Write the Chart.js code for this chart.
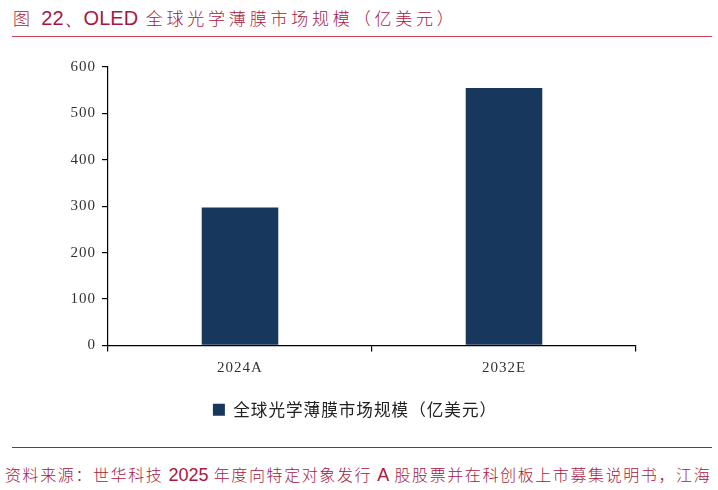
<!DOCTYPE html>
<html><head><meta charset="utf-8">
<script src="https://cdn.jsdelivr.net/npm/chart.js@4"></script>
<style>
html,body{margin:0;padding:0;background:#fff;width:718px;height:490px;overflow:hidden;position:relative;}
#title{position:absolute;left:13px;top:5px;font-family:"Noto Sans CJK SC","Liberation Sans",sans-serif;font-size:17px;letter-spacing:3.8px;color:#a8173f;white-space:nowrap;font-weight:300;}
#title .n{font-family:"Liberation Sans",Arial,sans-serif;font-size:20px;letter-spacing:0;font-weight:400;}
#l1{position:absolute;left:12px;top:36px;width:700px;height:1px;background:#d2435a;}
#l2{position:absolute;left:12px;top:447px;width:700px;height:1px;background:#c8102e;}
#src{position:absolute;left:5px;top:462px;font-family:"Noto Sans CJK SC",sans-serif;font-size:16px;letter-spacing:1.6px;color:#a8173f;white-space:nowrap;font-weight:300;}
#src .n{font-family:"Liberation Sans",Arial,sans-serif;font-size:18px;letter-spacing:0;font-weight:400;}
#wrap{position:absolute;left:0;top:40px;width:718px;height:400px;}
</style></head><body>
<div id="title">图 <span class="n">22、OLED</span> 全球光学薄膜市场规模（亿美元）</div>
<div id="l1"></div>
<div id="wrap"><canvas id="c" width="718" height="400"></canvas></div>
<div id="l2"></div>
<div id="src">资料来源：世华科技 <span class="n">2025</span> 年度向特定对象发行 <span class="n">A</span> 股股票并在科创板上市募集说明书，江海</div>
<script>
const categories = ["2024A", "2032E"];
const seriesName = "全球光学薄膜市场规模（亿美元）";
const values = [297, 555];
const yTicks = [0, 100, 200, 300, 400, 500, 600];

const spacingPlugin = {
  id: 'spacing',
  beforeUpdate(chart) { chart.ctx.letterSpacing = '1px'; },
  beforeLayout(chart) { chart.ctx.letterSpacing = '1px'; },
  afterLayout(chart) { if (chart.legend) { chart.legend.left += 6; chart.legend.right += 6; } },
  beforeDraw(chart) { chart.ctx.letterSpacing = '1px'; }
};

new Chart(document.getElementById('c'), {
  type: 'bar',
  plugins: [spacingPlugin],
  data: {
    labels: categories,
    datasets: [{
      label: seriesName,
      data: values,
      backgroundColor: '#18375d',
      borderWidth: 0,
      categoryPercentage: 1.0,
      barPercentage: 0.29
    }]
  },
  options: {
    responsive: false,
    animation: false,
    devicePixelRatio: 1,
    layout: { padding: { left: 62, right: 82, top: 27, bottom: 12 } },
    plugins: {
      tooltip: { enabled: false },
      legend: {
        position: 'bottom',
        labels: {
          boxWidth: 12, boxHeight: 12, padding: 20,
          color: '#222',
          font: { family: '"Noto Sans CJK SC", sans-serif', size: 16.6 }
        }
      }
    },
    scales: {
      x: {
        offset: true,
        grid: { display: true, drawOnChartArea: false, offset: true, tickLength: 6, color: '#000', lineWidth: 1.2 },
        border: { display: true, color: '#000', width: 1.2 },
        ticks: { color: '#333', padding: 8, font: { family: '"Liberation Serif", serif', size: 15 } },
        afterFit: s => { s.height = 36; }
      },
      y: {
        min: 0, max: 600,
        afterBuildTicks: s => { s.ticks = yTicks.map(v => ({ value: v })); },
        grid: { display: true, drawOnChartArea: false, tickLength: 6, color: '#000', lineWidth: 1.2 },
        border: { display: true, color: '#000', width: 1.2 },
        ticks: { color: '#333', padding: 6, font: { family: '"Liberation Serif", serif', size: 15 } },
        afterFit: s => { s.width = 46; }
      }
    }
  }
});
</script>
</body></html>
